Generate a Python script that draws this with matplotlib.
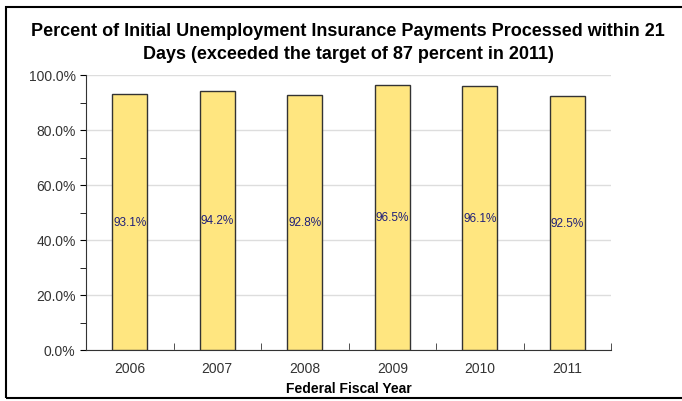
import matplotlib.pyplot as plt
from matplotlib.patches import Rectangle
from matplotlib.ticker import MultipleLocator, FuncFormatter

plt.rcParams['font.family'] = ['Liberation Sans', 'DejaVu Sans']

years = ['2006', '2007', '2008', '2009', '2010', '2011']
percents = [93.1, 94.2, 92.8, 96.5, 96.1, 92.5]

fig = plt.figure(figsize=(6.82, 4.02), dpi=100)
ax = fig.add_axes([86 / 682, 51 / 402, 525 / 682, 275 / 402])

# frame around the whole picture (right side runs off the image)
fig.patches.append(Rectangle((6 / 682, 3 / 402), 1.2, 391 / 402, transform=fig.transFigure,
                             fill=False, edgecolor='black', linewidth=1.5))

x = range(len(years))
bars = ax.bar(x, percents, width=0.4, color='#FFE680', edgecolor='#333333', linewidth=1, zorder=3)

for i, v in enumerate(percents):
    ax.text(i, v / 2, f'{v:.1f}%', ha='center', va='center', fontsize=8.5, color='#1F1F7A', zorder=4)

ax.set_xlim(-0.5, len(years) - 0.5)
ax.set_ylim(0, 100)
ax.yaxis.set_major_locator(MultipleLocator(20))
ax.yaxis.set_minor_locator(MultipleLocator(10))
ax.yaxis.set_major_formatter(FuncFormatter(lambda v, p: f'{v:.1f}%'))
ax.grid(axis='y', color='#DDDDDD', linewidth=1, zorder=0)

# category labels centred, ticks between categories
ax.set_xticks(list(x))
ax.set_xticklabels(years, fontsize=10, color='#333333')
ax.tick_params(axis='x', length=0, pad=8)
ax.set_xticks([i + 0.5 for i in range(len(years))], minor=True)
ax.tick_params(axis='x', which='minor', direction='in', length=5, color='#333333')
ax.tick_params(axis='y', which='both', direction='out', length=4, labelsize=10, labelcolor='#333333')

for s in ['top', 'right']:
    ax.spines[s].set_visible(False)
ax.spines['left'].set_color('#333333')
ax.spines['bottom'].set_color('#333333')

ax.set_xlabel('Federal Fiscal Year', fontsize=10, fontweight='bold', labelpad=4)
fig.text(348 / 682, 1 - 43 / 402, 'Percent of Initial Unemployment Insurance Payments Processed within 21\n'
         'Days (exceeded the target of 87 percent in 2011)',
         ha='center', va='center', fontsize=13, fontweight='bold', linespacing=1.4)

fig.savefig('out.png', dpi=100)
